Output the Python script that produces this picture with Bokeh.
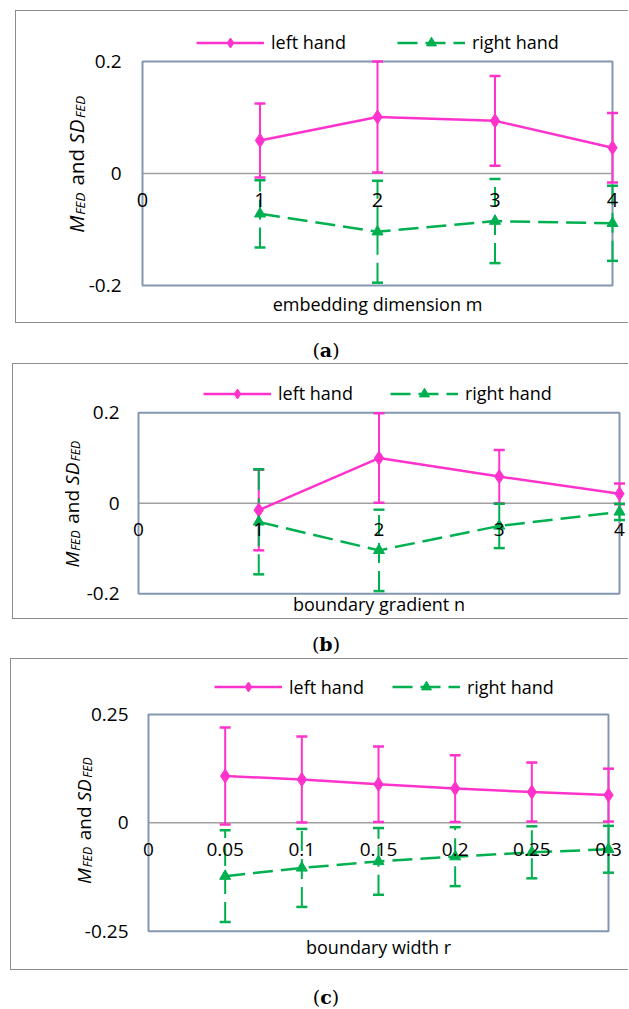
from bokeh.plotting import figure
from bokeh.models import (ColumnDataSource, Range1d, LinearAxis, FixedTicker, Whisker,
                          TeeHead, Legend, LegendItem, Label, Div, BoxAnnotation)
from bokeh.layouts import column
from bokeh.embed import file_html
from bokeh.resources import INLINE

# ---------------- data ----------------
series_names = ["left hand", "right hand"]

# (a) embedding dimension m
x_a = [1, 2, 3, 4]
left_mean_a = [0.059, 0.101, 0.094, 0.046]
left_sd_a = [0.066, 0.099, 0.080, 0.062]
right_mean_a = [-0.072, -0.104, -0.085, -0.089]
right_sd_a = [0.060, 0.091, 0.075, 0.067]
x_ticks_a = [0, 1, 2, 3, 4]
x_tick_labels_a = ["0", "1", "2", "3", "4"]
y_ticks_a = [-0.2, 0, 0.2]
y_tick_labels_a = ["-0.2", "0", "0.2"]
x_title_a = "embedding dimension m"

# (b) boundary gradient n
x_b = [1, 2, 3, 4]
left_mean_b = [-0.015, 0.100, 0.059, 0.021]
left_sd_b = [0.089, 0.099, 0.059, 0.023]
right_mean_b = [-0.041, -0.104, -0.050, -0.019]
right_sd_b = [0.116, 0.090, 0.049, 0.018]
x_ticks_b = [0, 1, 2, 3, 4]
x_tick_labels_b = ["0", "1", "2", "3", "4"]
y_ticks_b = [-0.2, 0, 0.2]
y_tick_labels_b = ["-0.2", "0", "0.2"]
x_title_b = "boundary gradient n"

# (c) boundary width r
x_c = [0.05, 0.1, 0.15, 0.2, 0.25, 0.3]
left_mean_c = [0.108, 0.100, 0.089, 0.079, 0.071, 0.064]
left_sd_c = [0.112, 0.099, 0.087, 0.077, 0.068, 0.061]
right_mean_c = [-0.123, -0.104, -0.089, -0.078, -0.068, -0.061]
right_sd_c = [0.106, 0.090, 0.077, 0.068, 0.060, 0.054]
x_ticks_c = [0, 0.05, 0.1, 0.15, 0.2, 0.25, 0.3]
x_tick_labels_c = ["0", "0.05", "0.1", "0.15", "0.2", "0.25", "0.3"]
y_ticks_c = [-0.25, 0, 0.25]
y_tick_labels_c = ["-0.25", "0", "0.25"]
x_title_c = "boundary width r"

captions = ["a", "b", "c"]

# ---------------- styles ----------------
MAGENTA = "#FF33CC"
GREEN = "#00B050"
FRAME = "#8497B0"
ZERO = "#A0A0A0"
FONT = "Open Sans"
OUTER = "#8C8C8C"
DASH = "20 8"


def make_panel(xs, lm, ls, rm, rs, xticks, xlabels, yticks, ylabels, xtitle, cfg):
    W, H = cfg["w"], cfg["h"]
    bl, br, bt, bb = cfg["box"]          # plot-area box in pixels inside the panel
    x0, x1 = xticks[0], xticks[-1]
    y0, y1 = yticks[0], yticks[-1]
    kx = (x1 - x0) / (br - bl)           # data units per pixel
    ky = (y1 - y0) / (bb - bt)
    xr = Range1d(x0 - bl * kx, x1 + (W - br) * kx)
    yr = Range1d(y0 - (H - bb) * ky, y1 + bt * ky)

    p = figure(width=W, height=H, output_backend="svg", toolbar_location=None,
               x_range=xr, y_range=yr, x_axis_location=None, y_axis_location=None,
               min_border=0, min_border_left=0, min_border_right=0,
               min_border_top=0, min_border_bottom=0,
               margin=cfg["margin"], background_fill_color=None, border_fill_color=None,
               outline_line_color=None,
               styles={"box-shadow": f"inset 1px 0 0 0 {OUTER}, inset 0 1px 0 0 {OUTER}, "
                                     f"inset 0 -1px 0 0 {OUTER}"})
    p.grid.visible = False

    # plot area border and zero line
    p.add_layout(BoxAnnotation(left=x0, right=x1, bottom=y0, top=y1, fill_color=None,
                               fill_alpha=0, line_color=FRAME, line_alpha=1.0,
                               line_width=2, level="underlay"))
    p.segment(x0=[x0], y0=[0], x1=[x1], y1=[0], line_color=ZERO, line_width=1.5,
              level="underlay")

    # x axis crossing at y = 0 (labels just under the zero line)
    xax = LinearAxis(ticker=FixedTicker(ticks=xticks),
                     major_label_overrides={t: l for t, l in zip(xticks, xlabels)},
                     fixed_location=0, axis_line_color=None,
                     major_tick_line_color=None, minor_tick_line_color=None,
                     major_tick_out=0, minor_tick_out=0,
                     major_label_standoff=cfg["xl_so"], major_label_text_font=FONT,
                     major_label_text_font_size=cfg["xl_fs"], major_label_text_color="black")
    p.add_layout(xax, "below")

    # y axis at the left edge of the plot area
    yax = LinearAxis(ticker=FixedTicker(ticks=yticks),
                     major_label_overrides={t: l for t, l in zip(yticks, ylabels)},
                     fixed_location=x0, axis_line_color=None,
                     major_tick_line_color=None, minor_tick_line_color=None,
                     major_tick_out=0, minor_tick_out=0,
                     major_label_standoff=cfg["yl_so"], major_label_text_font=FONT,
                     major_label_text_font_size="19px", major_label_text_color="black")
    p.add_layout(yax, "left")

    # x-axis title
    p.add_layout(Label(x=(x0 + x1) / 2, y=y0 - cfg["title_d"] * ky, text=xtitle,
                       text_align="center", text_baseline="middle", text_font=FONT,
                       text_font_size="18px", text_color="black"))

    # y-axis title "M_FED and SD_FED" (rotated, with subscripts)
    f = cfg["yf"]
    sub = 0.65
    pieces = [("M", "italic", 1.0, 0.88, 0.0), ("FED", "italic", sub, 1.79, 0.22),
              (None, None, 1.0, 0.26, 0.0), ("and", "normal", 1.0, 1.782, 0.0),
              (None, None, 1.0, 0.26, 0.0), ("SD", "italic", 1.0, 1.25, 0.0),
              ("FED", "italic", sub, 1.79, 0.22)]
    total = sum(w * s * f for _, _, s, w, _ in pieces)
    u = 0.0
    for text, style, s, w, drop in pieces:
        if text is not None:
            p.add_layout(Label(x=x0 + (cfg["yb"] + drop * f) * kx,
                               y=(cfg["yc"] - total / 2 + u) * ky,
                               text=text, angle=1.5707963267948966,
                               text_align="left", text_baseline="alphabetic",
                               text_font=FONT, text_font_style=style,
                               text_font_size=f"{s * f:.1f}px", text_color="black"))
        u += w * s * f

    src_l = ColumnDataSource(dict(x=xs, y=lm, upper=[m + s for m, s in zip(lm, ls)],
                                  lower=[m - s for m, s in zip(lm, ls)]))
    src_r = ColumnDataSource(dict(x=xs, y=rm, upper=[m + s for m, s in zip(rm, rs)],
                                  lower=[m - s for m, s in zip(rm, rs)]))

    p.add_layout(Whisker(source=src_l, base="x", upper="upper", lower="lower",
                         line_color=MAGENTA, line_width=2,
                         upper_head=TeeHead(size=11, line_color=MAGENTA, line_width=2.5),
                         lower_head=TeeHead(size=11, line_color=MAGENTA, line_width=2.5)))
    p.add_layout(Whisker(source=src_r, base="x", upper="upper", lower="lower",
                         line_color=GREEN, line_width=2, line_dash=DASH,
                         upper_head=TeeHead(size=11, line_color=GREEN, line_width=2.5),
                         lower_head=TeeHead(size=11, line_color=GREEN, line_width=2.5)))

    l1 = p.line("x", "y", source=src_l, line_color=MAGENTA, line_width=2.5)
    m1 = p.scatter("x", "y", source=src_l, marker="diamond", size=14,
                   fill_color=MAGENTA, line_color=MAGENTA)
    l2 = p.line("x", "y", source=src_r, line_color=GREEN, line_width=2.5, line_dash=DASH)
    m2 = p.scatter("x", "y", source=src_r, marker="triangle", size=11,
                   fill_color=GREEN, line_color=GREEN)

    legend = Legend(items=[LegendItem(label=series_names[0], renderers=[l1, m1]),
                           LegendItem(label=series_names[1], renderers=[l2, m2])],
                    location=(cfg["lx"], cfg["ly"]), orientation="horizontal",
                    glyph_width=68, glyph_height=25, label_height=25, label_standoff=7,
                    spacing=cfg["lsp"], padding=0, margin=0, border_line_color=None,
                    background_fill_alpha=0, label_text_font=FONT,
                    label_text_font_size="18px", label_text_color="black")
    p.add_layout(legend)
    return p


def caption(letter, h, top):
    return Div(text=f'<div style="margin-top:{top}px">(<b>{letter}</b>)</div>',
               width=588, height=h, margin=(0, 0, 0, 32),
               styles={"font-family": "DejaVu Serif", "font-size": "19px",
                       "text-align": "center", "color": "black"})


# panel geometry: box = (left, right, top, bottom) of the plot area in panel pixels
cfg_a = dict(w=613, h=313, margin=(10, 0, 0, 15), box=(127, 597, 51, 275),
             lx=181, ly=313 - 44.5, lsp=51, xl_so=19, xl_fs="20px", yl_so=21,
             title_d=18, yb=-67, yc=10, yf=20.5)
cfg_b = dict(w=616, h=256, margin=(0, 0, 0, 12), box=(126, 607, 49.3, 230.3),
             lx=191, ly=256 - 42.5, lsp=37, xl_so=20, xl_fs="19px", yl_so=19,
             title_d=10, yb=-67, yc=0, yf=19)
cfg_c = dict(w=618, h=312, margin=(0, 0, 0, 10), box=(138, 598, 56, 272.7),
             lx=204, ly=312 - 41, lsp=28, xl_so=20, xl_fs="19px", yl_so=20,
             title_d=16, yb=-65, yc=3, yf=19)

pa = make_panel(x_a, left_mean_a, left_sd_a, right_mean_a, right_sd_a, x_ticks_a,
                x_tick_labels_a, y_ticks_a, y_tick_labels_a, x_title_a, cfg_a)
pb = make_panel(x_b, left_mean_b, left_sd_b, right_mean_b, right_sd_b, x_ticks_b,
                x_tick_labels_b, y_ticks_b, y_tick_labels_b, x_title_b, cfg_b)
pc = make_panel(x_c, left_mean_c, left_sd_c, right_mean_c, right_sd_c, x_ticks_c,
                x_tick_labels_c, y_ticks_c, y_tick_labels_c, x_title_c, cfg_c)

layout = column(pa, caption(captions[0], 40, 14), pb, caption(captions[1], 39, 12),
                pc, caption(captions[2], 36, 14), spacing=0)

open("out.html", "w").write(file_html(layout, INLINE))
